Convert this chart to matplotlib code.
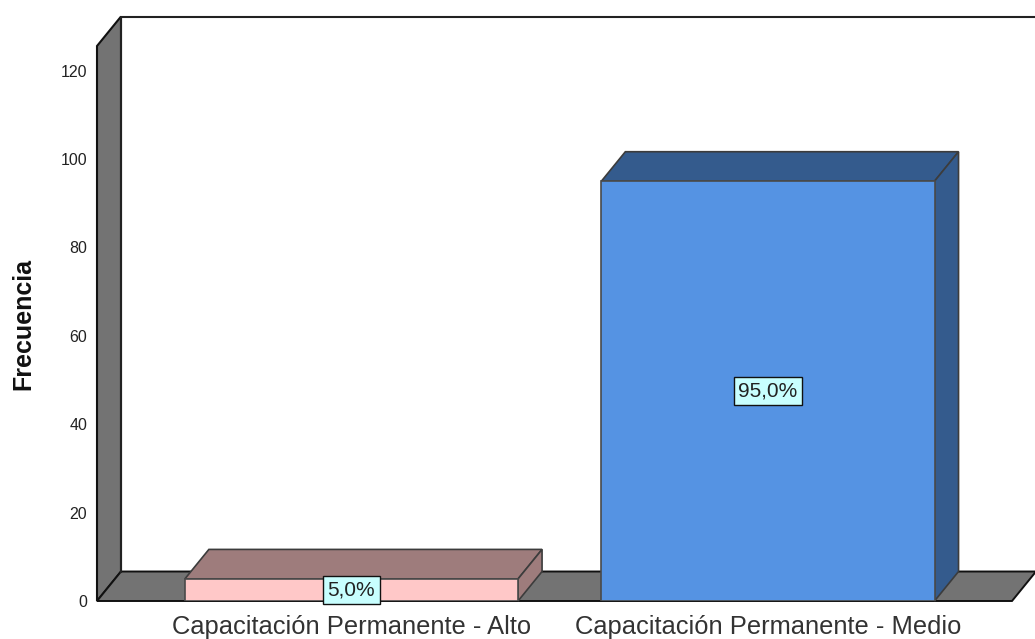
import matplotlib
matplotlib.use('Agg')
import matplotlib.pyplot as plt
from matplotlib.patches import Polygon

plt.rcParams['font.family'] = ['Liberation Sans', 'DejaVu Sans']

categories = ['Capacitación Permanente - Alto', 'Capacitación Permanente - Medio']
values = [5, 95]
labels = ['5,0%', '95,0%']
front_colors = ['#FFC8C8', '#5593E3']
shade_colors = ['#9E7C7C', '#345B8D']
y_ticks = [0, 20, 40, 60, 80, 100, 120]

W, H = 1035, 639
fig = plt.figure(figsize=(W / 100, H / 100), dpi=100, facecolor='white')
# axes box = front plane of the 3d chart
ax = fig.add_axes([97 / W, 1 - 601 / H, (1012 - 97) / W, (601 - 46) / H])
xmin, xmax = -0.611, 1.586
ymax = 125.6
ax.set_xlim(xmin, xmax)
ax.set_ylim(0, ymax)

# depth of the fake 3d, in data units (24px right, 29px up)
dx = 24 / 416.5
dy = 29.5 / 4.42
width = 0.8
wall = '#737373'

# side wall and floor
ax.add_patch(Polygon([(xmin, 0), (xmin + dx, dy), (xmin + dx, ymax + dy), (xmin, ymax)],
                     fc=wall, ec='#111111', lw=1.5, clip_on=False, zorder=1))
ax.add_patch(Polygon([(xmin, 0), (xmax, 0), (xmax + dx, dy), (xmin + dx, dy)],
                     fc=wall, ec='#111111', lw=1.4, clip_on=False, zorder=1))
# back plane outline
ax.plot([xmin + dx, xmin + dx, xmax + 2 * dx], [dy, ymax + dy, ymax + dy],
        color='#222222', lw=1.5, clip_on=False, zorder=1)

# bars: front face from ax.bar, top and side as polygons
for i, v in enumerate(values):
    l, r = i - width / 2, i + width / 2
    ax.bar(i, v, width=width, color=front_colors[i], edgecolor='#4a4a4a', linewidth=1.2, zorder=3)
    ax.add_patch(Polygon([(l, v), (r, v), (r + dx, v + dy), (l + dx, v + dy)],
                         fc=shade_colors[i], ec='#3c3c3c', lw=1.2, clip_on=False, zorder=2))
    ax.add_patch(Polygon([(r, 0), (r + dx, dy), (r + dx, v + dy), (r, v)],
                         fc=shade_colors[i], ec='#3c3c3c', lw=1.2, clip_on=False, zorder=2))
    ax.text(i, v / 2, labels[i], ha='center', va='center', fontsize=15, color='#222222', zorder=5,
            bbox=dict(boxstyle='square,pad=0.22', fc='#C8FFFF', ec='#111111', lw=1))

for s in ax.spines.values():
    s.set_visible(False)
ax.patch.set_alpha(0)
ax.set_xticks(range(len(categories)))
ax.set_xticklabels(categories, fontsize=18.4, color='#333333')
ax.set_yticks(y_ticks)
ax.tick_params(axis='x', length=0, pad=10)
ax.tick_params(axis='y', length=0, pad=7, labelsize=11.5, labelcolor='#222222')
fig.text(23 / W, 1 - 324 / H, 'Frecuencia', rotation=90, ha='center', va='center',
         fontsize=18, fontweight='bold', color='#111111')

fig.savefig('out.png', dpi=100)
